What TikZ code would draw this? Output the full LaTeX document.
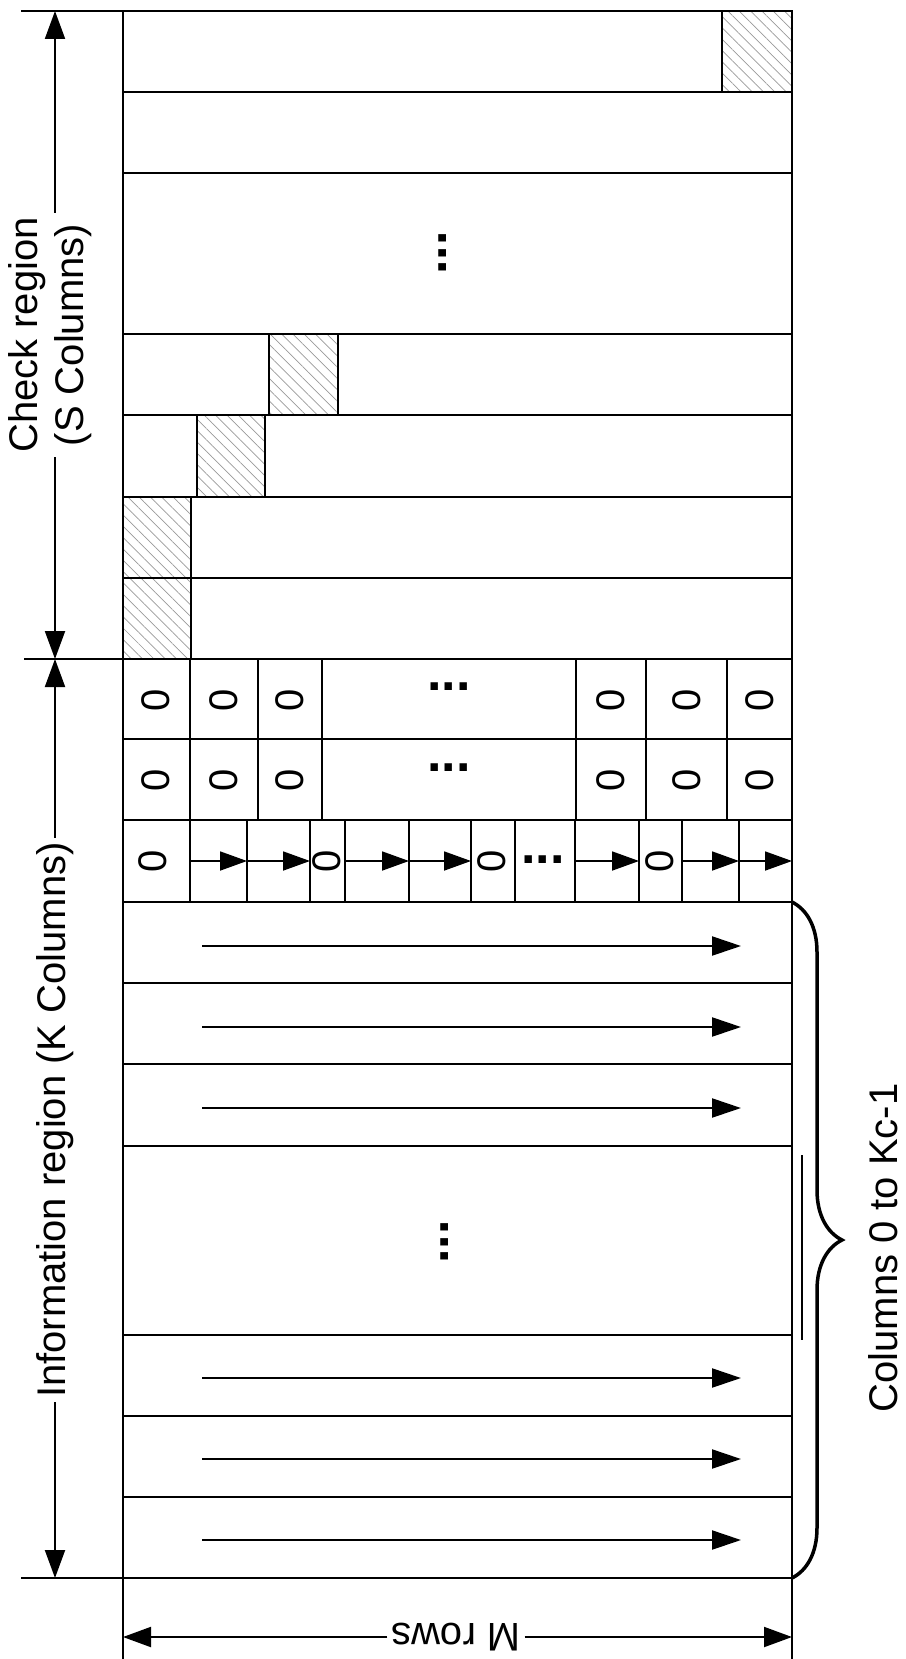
\documentclass[tikz,border=0pt]{standalone}
\usepackage{fontspec}
\setmainfont{Liberation Sans}
\usetikzlibrary{arrows.meta,patterns.meta,decorations.pathreplacing}

\tikzset{
  cellline/.style={line width=2.5pt},
  thincell/.style={line width=1.8pt},
  hatch/.style={cellline,pattern={Lines[angle=-45,distance=8pt,line width=0.7pt]},pattern color=black!40},
  flow/.style={line width=2.2pt,-{Triangle[length=29pt,width=19pt]}},
  shortflow/.style={line width=1.8pt,-{Triangle[length=27pt,width=19pt]}},
  dimarrow/.style={line width=2pt,-{Triangle[length=28pt,width=20pt]}},
  regionlabel/.style={font=\fontsize{40}{46}\selectfont,inner sep=4pt,align=center},
  zero/.style={font=\fontsize{40}{46}\selectfont,rotate=90,inner sep=0pt},
  dots/.style={font=\bfseries\fontsize{52}{52}\selectfont,inner sep=0pt}
}

\begin{document}
\begin{tikzpicture}[x=1pt,y=-1pt]
\useasboundingbox (0,0) rectangle (905,1659);

% outer frame and region boundaries
\draw[cellline] (123,11) -- (123,1659);
\draw[cellline] (792,11) -- (792,1659);
\draw[cellline] (21,11) -- (792,11);
\draw[cellline] (24,659) -- (792,659);
\draw[cellline] (21,1578) -- (792,1578);
\foreach \y in {92,173,334,415,497,578,739,820,902,983,1064,1146,1335,1416,1497}
  \draw[cellline] (123,\y) -- (792,\y);

% check region: staircase of hatched cells
\draw[hatch] (722,11) rectangle (792,92);
\draw[hatch] (269,334) rectangle (338,415);
\draw[hatch] (197,415) rectangle (265,497);
\draw[hatch] (123,497) rectangle (191,578);
\draw[hatch] (123,578) rectangle (191,659);
\node[dots,rotate=90] (chkdots) at (443,253) {...};

% information region: rows of zeros
\foreach \x in {190,258,322,576,646,727}
  \draw[cellline] (\x,659) -- (\x,820);
\foreach \y in {700,780}
  \foreach \x in {156,224,290,611,687,760}
    \node[zero] (z-\y-\x) at (\x,\y) {0};
\node[dots] (zdots1) at (449,687) {...};
\node[dots] (zdots2) at (449,768) {...};

% row with zeros and shift arrows
\foreach \x in {190,247,310,345,409,471,515,575,639,682,739}
  \draw[thincell] (\x,820) -- (\x,902);
\foreach \x in {153,327,492,660}
  \node[zero] (s-\x) at (\x,861) {0};
\foreach \a/\b in {190/247,247/310,345/409,409/471,575/639,682/739,739/792}
  \draw[shortflow] (\a,861) -- (\b,861);
\node[dots] (sdots) at (543,860) {...};

% full rows
\foreach \y in {946,1027,1108,1378,1459,1540}
  \draw[flow] (202,\y) -- (741,\y);
\node[dots,rotate=90] (infodots) at (445,1242) {...};
\draw[thincell] (802,1155) -- (802,1340);

% brace on the right
\draw[line width=3.5pt,decorate,decoration={brace,amplitude=50pt}] (792,902) -- (792,1578);
\node[regionlabel,rotate=90] (cols) at (883,1248) {Columns 0 to Kc-1};

% dimension lines
\coordinate (chktop) at (55,11);
\coordinate (chkbot) at (55,659);
\coordinate (infobot) at (55,1578);
\node[regionlabel,rotate=90] (chk) at (50,335) {Check region\\(S Columns)};
\draw[dimarrow] (chk.east -| chktop) -- (chktop);
\draw[dimarrow] (chk.west -| chktop) -- (chkbot);
\node[regionlabel,rotate=90] (info) at (55,1120) {Information region (K Columns)};
\draw[dimarrow] (info.east -| chkbot) -- (chkbot);
\draw[dimarrow] (info.west -| chkbot) -- (infobot);

\coordinate (mleft) at (123,1637);
\coordinate (mright) at (792,1637);
\node[regionlabel,rotate=180] (mrows) at (456,1637) {M rows};
\draw[dimarrow] (mrows) -- (mleft);
\draw[dimarrow] (mrows) -- (mright);
\end{tikzpicture}
\end{document}
